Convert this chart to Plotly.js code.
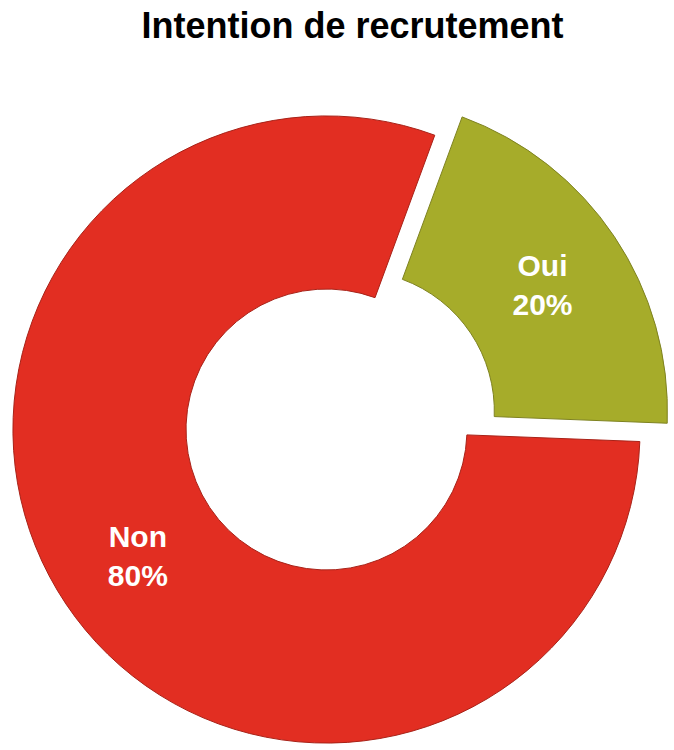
<!DOCTYPE html>
<html>
<head>
<meta charset="utf-8">
<script src="https://cdn.plot.ly/plotly-3.0.1.min.js"></script>
<style>
html, body { margin: 0; padding: 0; overflow: hidden; background: #fff; width: 674px; height: 750px; }
#chart { position: absolute; left: -20px; top: 0; width: 693px; height: 776px; }
</style>
</head>
<body>
<div id="chart"></div>
<script>
const labels = ["Oui", "Non"];
const values = [20, 80];
const colors = ["#A6AC2A", "#E22E22"];
const pulls = [0.105, 0];
const titleText = "Intention de recrutement";

const trace = {
  type: "pie",
  labels: labels,
  values: values,
  hole: 0.448,
  pull: pulls,
  sort: false,
  direction: "clockwise",
  rotation: 20.2,
  marker: { colors: colors, line: { color: ["#7E8220", "#A82218"], width: 1 } },
  textinfo: "label+percent",
  texttemplate: "%{label}<br>%{percent:.0%}",
  textposition: "inside",
  insidetextorientation: "horizontal",
  textfont: { family: "Liberation Sans, Arial, sans-serif", size: 30, color: "#ffffff", weight: "bold" },
  showlegend: false,
  hoverinfo: "label+percent"
};

const layout = {
  width: 693,
  height: 776,
  margin: { l: 0, r: 0, t: 83, b: 0 },
  paper_bgcolor: "#ffffff",
  title: {
    text: "<b>" + titleText + "</b>",
    font: { family: "Liberation Sans, Arial, sans-serif", size: 36, color: "#000000" },
    xref: "container",
    yref: "container",
    x: 372.5 / 693,
    y: 1 - 25.5 / 776,
    xanchor: "center",
    yanchor: "middle"
  },
  showlegend: false
};

Plotly.newPlot("chart", [trace], layout, { staticPlot: true, displayModeBar: false });
</script>
</body>
</html>
